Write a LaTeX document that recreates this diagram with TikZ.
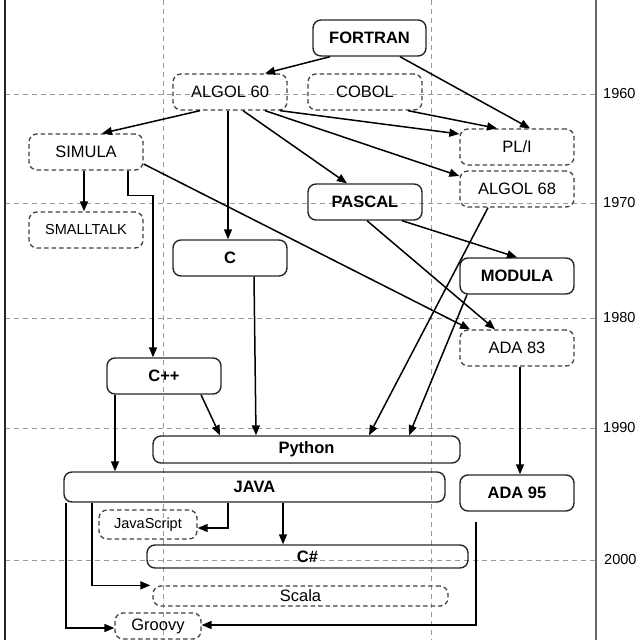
\documentclass[tikz,border=0pt]{standalone}
\usepackage{fontspec}
\setmainfont{Liberation Sans}
\usetikzlibrary{arrows.meta,calc}
\begin{document}
\begin{tikzpicture}[x=1pt,y=-1pt,
  base/.style={rounded corners=8pt, inner sep=0pt, line width=1.4pt, align=center},
  solidbox/.style={base, draw=black!85, font=\fontsize{16.5}{18}\selectfont\bfseries},
  dashbox/.style={base, draw=black!75, dash pattern=on 4.5pt off 3pt, line width=1.3pt, font=\fontsize{16.5}{18}\selectfont},
  smallbox/.style={dashbox, font=\fontsize{14.5}{16}\selectfont},
  std/.style={minimum width=114pt, minimum height=36pt},
  conn/.style={line width=1.5pt, -{Triangle[length=10pt,width=8pt]}},
  gridline/.style={black!40, line width=1pt, dash pattern=on 5pt off 4pt},
  year/.style={anchor=west, inner sep=0pt, font=\fontsize{14.5}{16}\selectfont},
]
\useasboundingbox (0,0) rectangle (640,640);

% grid
\foreach \yy in {94,203,318,428,560}
  \draw[gridline] (5,\yy) -- (596,\yy);
\draw[gridline] (163,0) -- (163,640);
\draw[gridline] (431,0) -- (431,640);
\draw[line width=1.3pt, black!85] (5,0) -- (5,640);
\draw[line width=1.3pt, black!60] (596,0) -- (596,640);

% years
\node[year] (y1960) at (603,94) {1960};
\node[year] (y1970) at (603,203) {1970};
\node[year] (y1980) at (603,318) {1980};
\node[year] (y1990) at (603,428) {1990};
\node[year] (y2000) at (604,560) {2000};

% nodes
\node[solidbox, std, minimum width=113pt] (fortran) at (369.5,38) {FORTRAN};
\node[dashbox, std] (algol60) at (230,92) {ALGOL 60};
\node[dashbox, std] (cobol) at (365,92) {COBOL};
\node[dashbox, std] (simula) at (86,152) {SIMULA};
\node[smallbox, std] (smalltalk) at (86,230) {SMALLTALK};
\node[solidbox, std] (c) at (230,258) {C};
\node[solidbox, std] (pascal) at (365,202) {PASCAL};
\node[dashbox, std] (pli) at (517,147) {PL/I};
\node[dashbox, std] (algol68) at (517,189) {ALGOL 68};
\node[solidbox, std] (modula) at (517,276) {MODULA};
\node[dashbox, std] (ada83) at (517,348) {ADA 83};
\node[solidbox, std] (ada95) at (517,493) {ADA 95};
\node[solidbox, std] (cpp) at (164,376) {C++};
\node[solidbox, minimum width=307pt, minimum height=27pt] (python) at (306.5,449.5) {Python};
\node[solidbox, minimum width=381pt, minimum height=30pt] (java) at (254.5,487) {JAVA};
\node[smallbox, minimum width=98pt, minimum height=29pt] (javascript) at (148,524.5) {JavaScript};
\node[solidbox, minimum width=321pt, minimum height=23pt] (csharp) at (307.5,556.5) {C\#};
\node[dashbox, minimum width=295pt, minimum height=20pt] (scala) at (300.5,596) {Scala};
\node[dashbox, minimum width=86pt, minimum height=26pt] (groovy) at (158,626) {Groovy};
\coordinate (free) at (476,522);

% connectors
\draw[conn] ([xshift=-39.5pt]fortran.south) -- ([xshift=35pt]algol60.north);
\draw[conn] ([xshift=30.5pt]fortran.south) -- ([xshift=13pt]pli.north);
\draw[conn] ([xshift=43pt]cobol.south) -- ([xshift=-20pt]pli.north);
\draw[conn] ([xshift=50pt]algol60.south) -- ([yshift=13pt]pli.west);
\draw[conn] ([xshift=35pt]algol60.south) -- ([yshift=13pt]algol68.west);
\draw[conn] ([xshift=13pt]algol60.south) -- ([xshift=-18pt]pascal.north);
\draw[conn] ([xshift=-2pt]algol60.south) -- ([xshift=-2pt]c.north);
\draw[conn] ([xshift=-30pt]algol60.south) -- ([xshift=16pt]simula.north);
\draw[conn] ([xshift=-2pt]simula.south) -- ([xshift=-2pt]smalltalk.north);
\draw[conn] ([xshift=42pt]simula.south) -- ++(0,25) -| ([xshift=-11pt]cpp.north);
\draw[conn] ([yshift=-12pt]simula.east) -- ([xshift=-47pt]ada83.north);
\draw[conn] ([xshift=2pt]pascal.south) -- ([xshift=-22pt]ada83.north);
\draw[conn] ([xshift=37pt]pascal.south) -- (modula.north);
\draw[conn] ([xshift=-29pt]algol68.south) -- ([xshift=62.5pt]python.north);
\draw[conn] ([xshift=-50pt]modula.south) -- ([xshift=102.5pt]python.north);
\draw[conn] ([xshift=3pt]ada83.south) -- ([xshift=3pt]ada95.north);
\draw[conn] ([xshift=24pt]c.south) -- ([xshift=-50.5pt]python.north);
\draw[conn] ([xshift=37pt]cpp.south) -- ([xshift=-86.5pt]python.north);
\draw[conn] ([xshift=-49pt]cpp.south) -- ([xshift=-139.5pt]java.north);
\draw[conn] ([xshift=-26.5pt]java.south) |- ([yshift=-3.5pt]javascript.east);
\draw[conn] ([xshift=28.5pt]java.south) -- ([xshift=-24.5pt]csharp.north);
\draw[conn] ([xshift=-162.5pt]java.south) |- ([xshift=-2pt]scala.north west);
\draw[conn] ([xshift=-188.5pt]java.south) |- ([yshift=-2pt]groovy.west);
\draw[conn] (free) |- ([yshift=1pt]groovy.east);
\end{tikzpicture}
\end{document}
